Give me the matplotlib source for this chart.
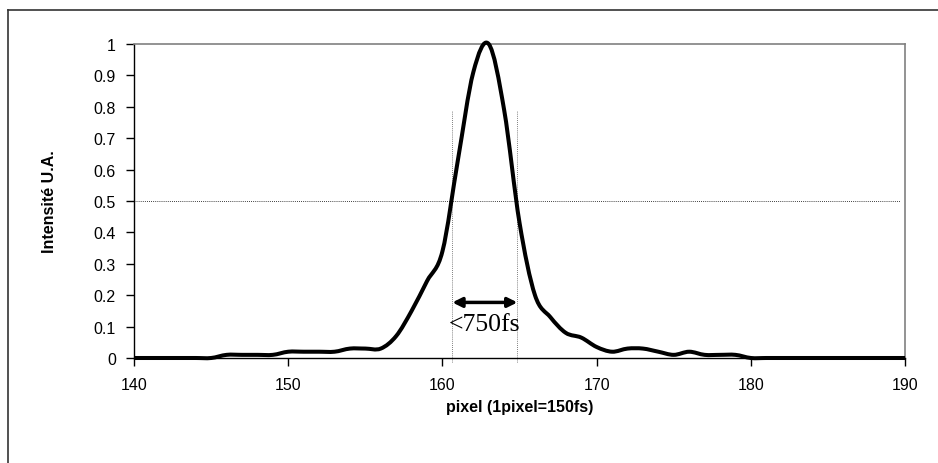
"""Autocorrelation-style pulse profile: intensity vs. detector pixel."""

import matplotlib

matplotlib.use("Agg")
import matplotlib.pyplot as plt
import numpy as np
from matplotlib.lines import Line2D
from matplotlib.patches import PathPatch
from matplotlib.path import Path

# Pixel index and measured (normalised) intensity
pixels = list(range(140, 191))
intensity = [
    0, 0, 0, 0, 0, 0,                 # 140-145
    0.01, 0.01, 0.01, 0.01,           # 146-149
    0.02, 0.02, 0.02, 0.02,           # 150-153
    0.03, 0.03, 0.03,                 # 154-156
    0.07, 0.15, 0.245, 0.34,          # 157-160
    0.63, 0.91, 1.0, 0.79, 0.43,      # 161-165
    0.2, 0.13, 0.08, 0.065, 0.035,    # 166-170
    0.02, 0.03, 0.03, 0.02, 0.01,     # 171-175
    0.02, 0.01, 0.01, 0.01,           # 176-179
    0, 0, 0, 0, 0, 0, 0, 0, 0, 0, 0,  # 180-190
]

# FWHM markers
half_max = 0.5
fwhm_left = 160.64
fwhm_right = 164.86
marker_top = 0.79
arrow_level = 0.177
fwhm_label = "<750fs"

y_ticks = [0, 0.1, 0.2, 0.3, 0.4, 0.5, 0.6, 0.7, 0.8, 0.9, 1]
y_tick_labels = ["0", "0.1", "0.2", "0.3", "0.4", "0.5", "0.6", "0.7", "0.8", "0.9", "1"]
x_ticks = [140, 150, 160, 170, 180, 190]


def smoothed_path(x, y):
    """Excel-style smoothed line: cubic Bezier segments through every point."""
    pts = np.column_stack([x, y]).astype(float)
    verts = [pts[0]]
    codes = [Path.MOVETO]
    for i in range(len(pts) - 1):
        p0 = pts[max(i - 1, 0)]
        p1, p2 = pts[i], pts[i + 1]
        p3 = pts[min(i + 2, len(pts) - 1)]
        verts += [p1 + (p2 - p0) / 6.0, p2 - (p3 - p1) / 6.0, p2]
        codes += [Path.CURVE4] * 3
    return Path(verts, codes)


plt.rcParams["font.family"] = ["Liberation Sans", "DejaVu Sans"]

fig = plt.figure(figsize=(9.38, 4.64), dpi=100)
ax = fig.add_axes([0.1429, 0.2263, 0.8220, 0.6767])

# outer frame of the chart object (clipped on right/bottom)
fig.add_artist(Line2D([0.0085, 0.0085], [0.0, 0.976], transform=fig.transFigure,
                      color="#333333", lw=1.2))
fig.add_artist(Line2D([0.0085, 1.0], [0.976, 0.976], transform=fig.transFigure,
                      color="#333333", lw=1.2))

ax.axhline(half_max, xmin=0, xmax=0.994, color="black", lw=0.6, linestyle=(0, (1, 1.5)))
for xv in (fwhm_left, fwhm_right):
    ax.plot([xv, xv], [-0.012, marker_top], color="#555555", lw=0.6,
            linestyle=(0, (1, 1.5)), clip_on=False)

ax.add_patch(PathPatch(smoothed_path(pixels, intensity), facecolor="none",
                       edgecolor="black", lw=2.9, joinstyle="round",
                       clip_on=False, zorder=3))

ax.annotate("", xy=(fwhm_left, arrow_level), xytext=(fwhm_right, arrow_level),
            arrowprops=dict(arrowstyle="<|-|>", color="black", lw=2.5,
                            mutation_scale=14, shrinkA=0, shrinkB=0))
ax.text((fwhm_left + fwhm_right) / 2, 0.108, fwhm_label, family="Liberation Serif",
        fontsize=18.5, ha="center", va="center")

ax.set_xlim(140, 190)
ax.set_ylim(0, 1)
ax.set_xticks(x_ticks)
ax.set_yticks(y_ticks)
ax.set_yticklabels(y_tick_labels)
ax.tick_params(axis="both", direction="out", labelsize=11.5, colors="black", width=1)
ax.tick_params(axis="x", length=6, pad=8)
ax.tick_params(axis="y", length=6, pad=7)

for side in ("top", "right"):
    ax.spines[side].set_color("#808080")
    ax.spines[side].set_linewidth(1.2)
for side in ("left", "bottom"):
    ax.spines[side].set_color("black")
    ax.spines[side].set_linewidth(1.0)

ax.set_xlabel("pixel (1pixel=150fs)", fontsize=11.5, fontweight="bold", labelpad=5)
ax.set_ylabel("Intensité U.A.", fontsize=11.5, fontweight="bold", labelpad=26)

fig.savefig("out.png", dpi=100)
